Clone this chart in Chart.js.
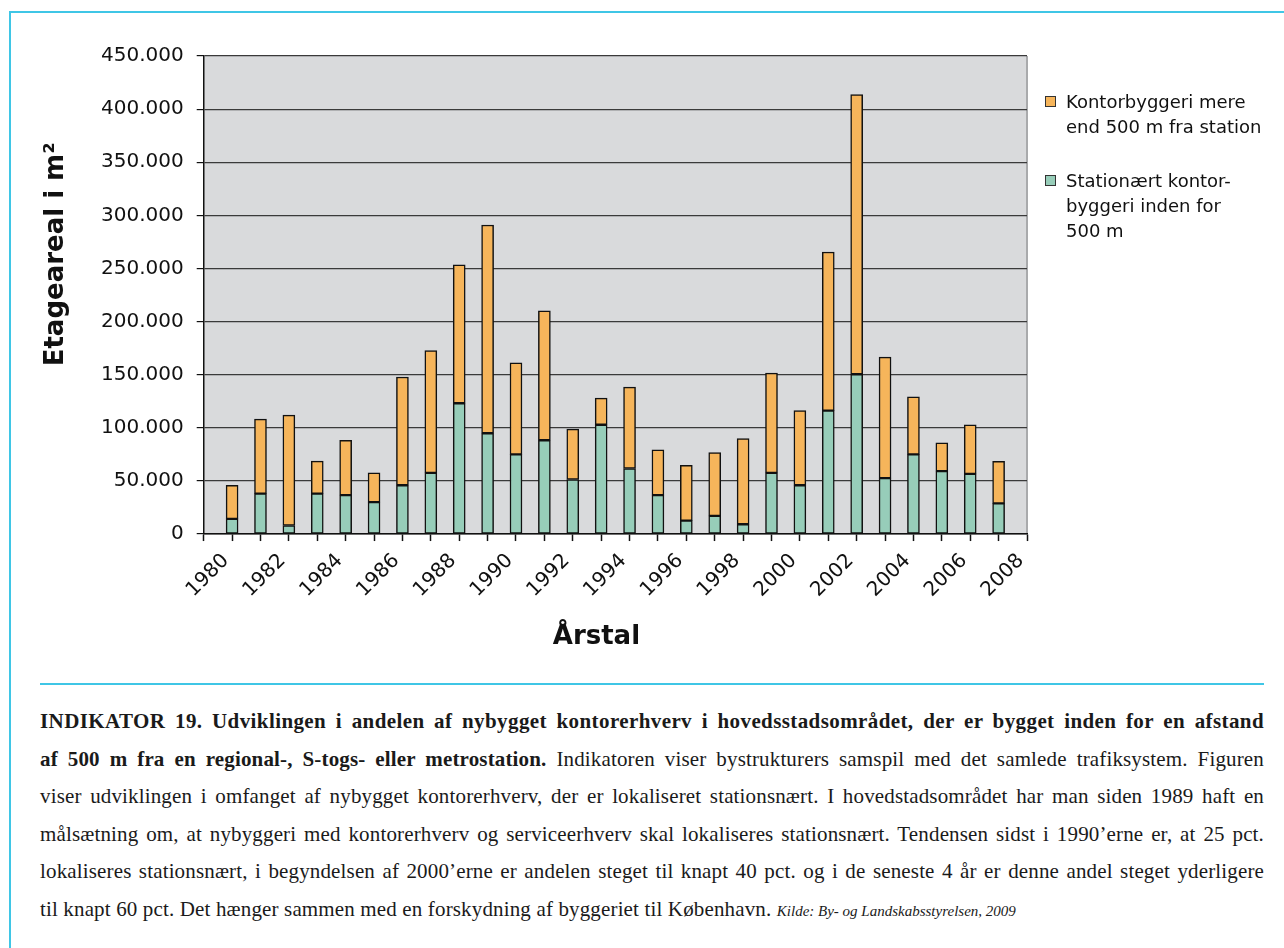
<!DOCTYPE html>
<html>
<head>
<meta charset="utf-8">
<script src="https://cdn.jsdelivr.net/npm/chart.js@4.4.1/dist/chart.umd.min.js"></script>
<style>
  html, body { margin: 0; padding: 0; background: #fff; }
  body { width: 1284px; height: 948px; position: relative; overflow: hidden; }
  #frameTop { position: absolute; left: 10px; top: 11px; width: 1274px; height: 2px; background: #3fc6e6; }
  #frameLeft { position: absolute; left: 9px; top: 11px; width: 2px; height: 937px; background: #3fc6e6; }
  #sep { position: absolute; left: 40px; top: 683px; width: 1224px; height: 2px; background: #3fc6e6; }
  #wrap { position: absolute; left: 0; top: 0; width: 1284px; height: 670px; }
  #legend { position: absolute; left: 1045px; top: 0; font-family: "DejaVu Sans", sans-serif; font-size: 18px; color: #111; }
  .item { position: absolute; left: 0; width: 230px; }
  .box { position: absolute; left: 0; width: 9px; height: 9px; border: 1px solid #333; }
  .lbl { position: absolute; left: 21px; line-height: 25px; white-space: nowrap; }
  #text { position: absolute; left: 40px; top: 703px; width: 1224px; font-family: "Liberation Serif", serif; font-size: 21px; letter-spacing: 0.15px; color: #1a1a1a; }
  #text div { line-height: 37.6px; white-space: nowrap; text-align: justify; text-align-last: justify; }
  #text div.last { text-align-last: left; }
  .src { font-style: italic; font-size: 15px; letter-spacing: 0; }
</style>
</head>
<body>
<div id="frameTop"></div>
<div id="frameLeft"></div>
<div id="wrap"><canvas id="chart"></canvas></div>
<div id="legend"></div>
<div id="sep"></div>
<div id="text">
  <div><b style="letter-spacing:0.4px">INDIKATOR 19. Udviklingen i andelen af nybygget kontorerhverv i hovedsstadsområdet, der er bygget inden for en afstand</b></div>
  <div><b>af 500 m fra en regional-, S-togs- eller metrostation.</b> Indikatoren viser bystrukturers samspil med det samlede trafiksystem. Figuren</div>
  <div>viser udviklingen i omfanget af nybygget kontorerhverv, der er lokaliseret stationsnært. I hovedstadsområdet har man siden 1989 haft en</div>
  <div>målsætning om, at nybyggeri med kontorerhverv og serviceerhverv skal lokaliseres stationsnært. Tendensen sidst i 1990’erne er, at 25 pct.</div>
  <div>lokaliseres stationsnært, i begyndelsen af 2000’erne er andelen steget til knapt 40 pct. og i de seneste 4 år er denne andel steget yderligere</div>
  <div class="last">til knapt 60 pct. Det hænger sammen med en forskydning af byggeriet til København. <span class="src">Kilde: By- og Landskabsstyrelsen, 2009</span></div>
</div>
<script>
// data (m2)
const years = [1980, 1981, 1982, 1983, 1984, 1985, 1986, 1987, 1988, 1989,
  1990, 1991, 1992, 1993, 1994, 1995, 1996, 1997, 1998, 1999,
  2000, 2001, 2002, 2003, 2004, 2005, 2006, 2007];
const stationNear = [14300, 38000, 8000, 38000, 36700, 30100, 45900, 57600, 123100, 94900,
  75000, 88300, 51300, 102900, 61700, 36700, 12700, 17100, 9200, 57600,
  45900, 116200, 150400, 52600, 75000, 59200, 56700, 28800];
const farFromStation = [31600, 70200, 104000, 30700, 51600, 27500, 101900, 115200, 130400, 196000,
  86100, 121900, 47400, 25000, 76600, 42500, 51900, 59500, 80700, 94000,
  70300, 149300, 263300, 113900, 54100, 26600, 46200, 39600];
const yTicks = [0, 50000, 100000, 150000, 200000, 250000, 300000, 350000, 400000, 450000];
const xTickYears = [1980, 1982, 1984, 1986, 1988, 1990, 1992, 1994, 1996, 1998, 2000, 2002, 2004, 2006, 2008];

const legendItems = [
  { lines: ["Kontorbyggeri mere", "end 500 m fra station"], color: "#f6b55b", top: 89 },
  { lines: ["Stationært kontor-", "byggeri inden for", "500 m"], color: "#97cdb9", top: 168 }
];

const FONT = "'DejaVu Sans', sans-serif";

function fmt(v) {
  return String(v).replace(/\B(?=(\d{3})+(?!\d))/g, ".");
}

// legend
const lg = document.getElementById("legend");
legendItems.forEach(it => {
  const d = document.createElement("div");
  d.className = "item";
  d.style.top = it.top + "px";
  d.innerHTML = '<div class="box" style="top:7px;background:' + it.color + '"></div>' +
    '<div class="lbl">' + it.lines.join("<br>") + '</div>';
  lg.appendChild(d);
});

const plotBg = {
  id: "plotBg",
  beforeDraw(chart) {
    const a = chart.chartArea, c = chart.ctx;
    c.save();
    c.fillStyle = "#d9dadc";
    c.fillRect(a.left, a.top, a.right - a.left, a.bottom - a.top);
    c.strokeStyle = "#a9aaac";
    c.lineWidth = 2;
    c.beginPath();
    c.moveTo(a.right, a.top);
    c.lineTo(a.right, a.bottom);
    c.stroke();
    c.restore();
  },
  afterDraw(chart) {
    const a = chart.chartArea, c = chart.ctx;
    c.save();
    c.fillStyle = "#111";
    c.font = "bold 26px " + FONT;
    c.textAlign = "center";
    c.textBaseline = "middle";
    c.fillText("Årstal", a.left + 0.477 * (a.right - a.left), a.bottom + 103);
    c.translate(a.left - 147, a.top + 0.415 * (a.bottom - a.top));
    c.rotate(-Math.PI / 2);
    c.fillText("Etageareal i m²", 0, 0);
    c.restore();
  }
};

new Chart(document.getElementById("chart"), {
  type: "bar",
  data: {
    datasets: [
      {
        label: "Stationært kontorbyggeri inden for 500 m",
        data: years.map((y, i) => ({ x: y + 0.5, y: stationNear[i] })),
        backgroundColor: "#97cdb9",
        borderColor: "#111",
        borderWidth: 1.5,
        borderSkipped: false,
        barThickness: 12
      },
      {
        label: "Kontorbyggeri mere end 500 m fra station",
        data: years.map((y, i) => ({ x: y + 0.5, y: farFromStation[i] })),
        backgroundColor: "#f6b55b",
        borderColor: "#111",
        borderWidth: 1.5,
        borderSkipped: false,
        barThickness: 12
      }
    ]
  },
  options: {
    responsive: true,
    maintainAspectRatio: false,
    animation: false,
    layout: { padding: { left: 88, right: 257, top: 56, bottom: 60 } },
    plugins: { legend: { display: false }, tooltip: { enabled: false } },
    scales: {
      x: {
        type: "linear",
        stacked: true,
        min: 1980,
        max: 2008,
        afterBuildTicks(scale) {
          scale.ticks = [];
          for (let y = 1980; y <= 2008; y++) scale.ticks.push({ value: y });
        },
        grid: { drawOnChartArea: false, tickLength: 7, tickColor: "#111", tickWidth: 1.5 },
        border: { color: "#111", width: 1.5 },
        ticks: {
          autoSkip: false,
          minRotation: 45,
          maxRotation: 45,
          padding: 8,
          labelOffset: 8,
          color: "#111",
          font: { family: FONT, size: 20 },
          callback: v => xTickYears.includes(v) ? String(v) : ""
        }
      },
      y: {
        stacked: true,
        min: 0,
        max: 450000,
        afterBuildTicks(scale) {
          scale.ticks = yTicks.map(v => ({ value: v }));
        },
        grid: { color: "#3a3a3a", lineWidth: 1.2, tickLength: 7, tickColor: "#111" },
        border: { color: "#111", width: 1.5 },
        ticks: {
          padding: 13,
          color: "#111",
          font: { family: FONT, size: 20 },
          callback: v => fmt(v)
        }
      }
    }
  },
  plugins: [plotBg]
});
</script>
</body>
</html>
